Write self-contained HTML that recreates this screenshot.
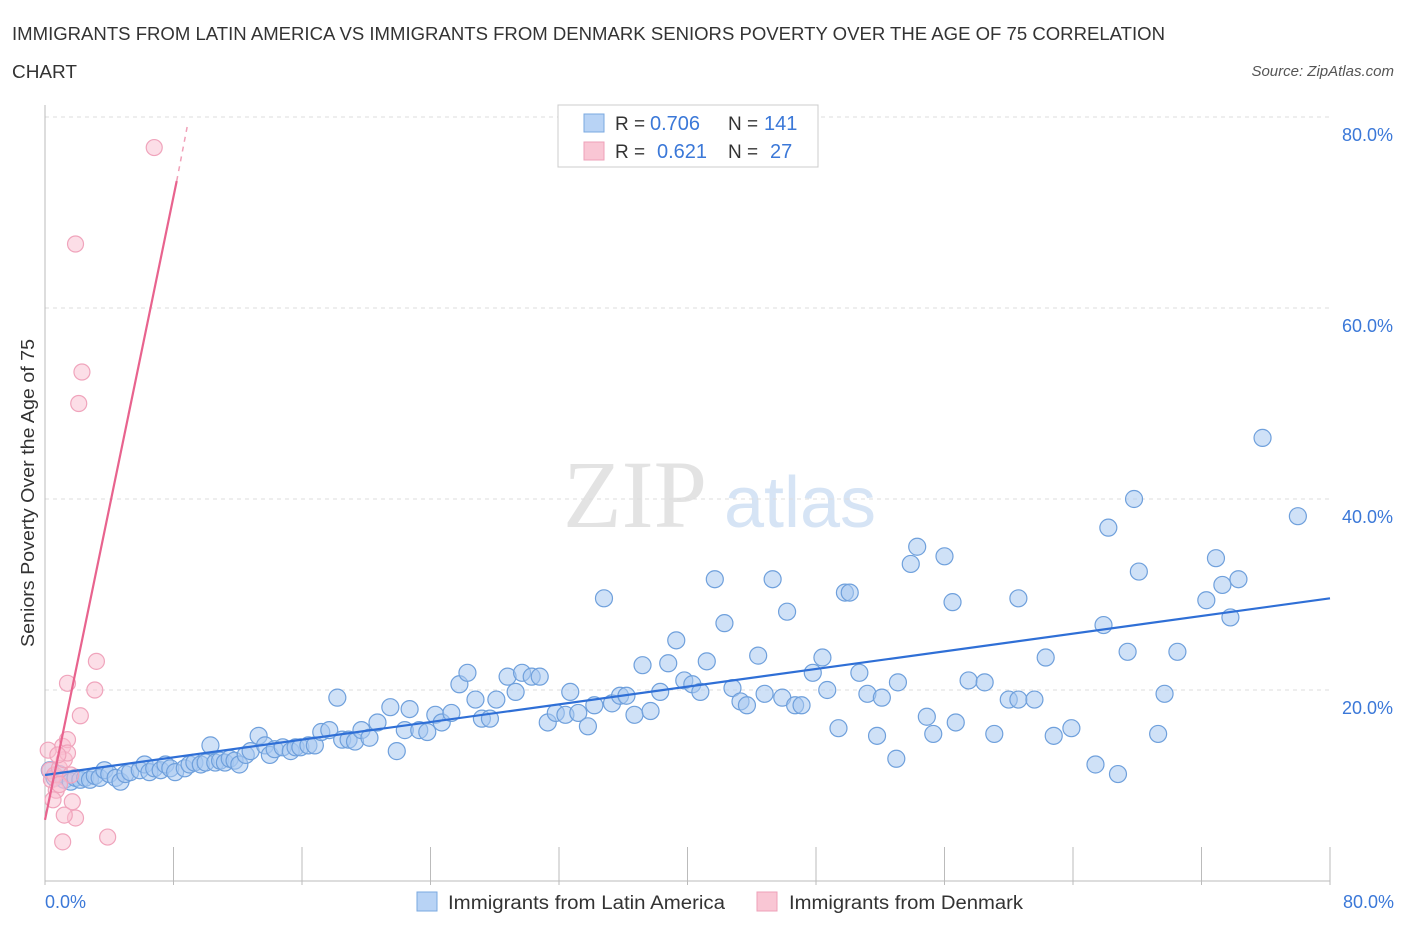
<!DOCTYPE html>
<html><head><meta charset="utf-8"><style>
body{margin:0;background:#fff;font-family:"Liberation Sans",sans-serif;}
#wrap{position:relative;width:1406px;height:930px;overflow:hidden;}
</style></head><body>
<div id="wrap">
<svg id="svg" width="1406" height="930" xmlns="http://www.w3.org/2000/svg">
<text x="12" y="40" font-size="18" fill="#333" textLength="1153" lengthAdjust="spacingAndGlyphs">IMMIGRANTS FROM LATIN AMERICA VS IMMIGRANTS FROM DENMARK SENIORS POVERTY OVER THE AGE OF 75 CORRELATION</text>
<text x="12" y="78" font-size="18" fill="#333" textLength="65" lengthAdjust="spacingAndGlyphs">CHART</text>
<text x="1394" y="76" font-size="15" fill="#555" font-style="italic" text-anchor="end">Source: ZipAtlas.com</text>
<text x="635" y="527" font-size="96" fill="#e3e3e3" font-family="Liberation Serif,serif" text-anchor="middle">ZIP</text>
<text x="800" y="527" font-size="72" fill="#d6e4f5" text-anchor="middle">atlas</text>
<text x="34" y="493" font-size="18" fill="#333" text-anchor="middle" transform="rotate(-90 34 493)" textLength="308" lengthAdjust="spacingAndGlyphs">Seniors Poverty Over the Age of 75</text>
<g id="grid"></g><g id="marks"></g>
<g>
<rect x="558" y="105" width="260" height="62" fill="#fff" stroke="#ccc"/>
<rect x="584" y="114" width="20" height="18" fill="#b8d3f5" stroke="#7aa8e0"/>
<rect x="584" y="142" width="20" height="18" fill="#f9c6d4" stroke="#eea0b8"/>
<text x="615" y="130" font-size="19" fill="#333">R =</text>
<text x="650" y="130" font-size="20" fill="#3b78d8">0.706</text>
<text x="728" y="130" font-size="19" fill="#333">N =</text>
<text x="764" y="130" font-size="20" fill="#3b78d8">141</text>
<text x="615" y="158" font-size="19" fill="#333">R =</text>
<text x="657" y="158" font-size="20" fill="#3b78d8">0.621</text>
<text x="728" y="158" font-size="19" fill="#333">N =</text>
<text x="770" y="158" font-size="20" fill="#3b78d8">27</text>
</g>
<g>
<rect x="417" y="892" width="20" height="19" fill="#b8d3f5" stroke="#7aa8e0"/>
<text x="448" y="909" font-size="19" fill="#333" textLength="277" lengthAdjust="spacingAndGlyphs">Immigrants from Latin America</text>
<rect x="757" y="892" width="20" height="19" fill="#f9c6d4" stroke="#eea0b8"/>
<text x="789" y="909" font-size="19" fill="#333" textLength="234" lengthAdjust="spacingAndGlyphs">Immigrants from Denmark</text>
</g>
</svg>
</div>
<script>
const yTicks=[20,40,60,80];
const xTickVals=[0,8,16,24,32,40,48,56,64,72,80];
const blueX=[0.3,0.6,0.9,1.2,1.6,1.9,2.2,2.5,2.8,3.1,3.4,3.7,4.0,4.4,4.7,5.0,5.3,5.9,6.2,6.5,6.8,7.2,7.5,7.8,8.1,8.7,9.0,9.3,9.7,10.0,10.3,10.6,10.9,11.2,11.5,11.8,12.1,12.5,12.8,13.3,13.7,14.0,14.3,14.8,15.3,15.6,15.9,16.4,16.8,17.2,17.7,18.2,18.5,18.9,19.3,19.7,20.2,20.7,21.5,21.9,22.4,22.7,23.3,23.8,24.3,24.7,25.3,25.8,26.3,26.8,27.2,27.7,28.1,28.8,29.3,29.7,30.3,30.8,31.3,31.8,32.4,32.7,33.2,33.8,34.2,34.8,35.3,35.8,36.2,36.7,37.2,37.7,38.3,38.8,39.3,39.8,40.3,40.8,41.2,41.7,42.3,42.8,43.3,43.7,44.4,44.8,45.3,45.9,46.2,46.7,47.1,47.8,48.4,48.7,49.4,49.8,50.1,50.7,51.2,51.8,52.1,53.0,53.1,53.9,54.3,54.9,55.3,56.0,56.5,56.7,57.5,58.5,59.1,60.0,60.6,60.6,61.6,62.3,62.8,63.9,65.4,65.9,66.2,66.8,67.4,67.8,68.1,69.3,69.7,70.5,72.3,72.9,73.3,73.8,74.3,75.8,78.0];
const blueY=[11.6,10.8,11.2,10.6,10.4,10.8,10.6,10.8,10.6,11.0,10.8,11.6,11.2,10.8,10.4,11.2,11.4,11.6,12.2,11.4,11.8,11.6,12.2,11.8,11.4,11.8,12.2,12.4,12.2,12.4,14.2,12.4,12.6,12.4,12.8,12.6,12.2,13.2,13.6,15.2,14.2,13.2,13.8,14.0,13.6,14.0,14.0,14.2,14.2,15.6,15.8,19.2,14.8,14.8,14.6,15.8,15.0,16.6,18.2,13.6,15.8,18.0,15.8,15.6,17.4,16.6,17.6,20.6,21.8,19.0,17.0,17.0,19.0,21.4,19.8,21.8,21.4,21.4,16.6,17.6,17.4,19.8,17.6,16.2,18.4,29.6,18.6,19.4,19.4,17.4,22.6,17.8,19.8,22.8,25.2,21.0,20.6,19.8,23.0,31.6,27.0,20.2,18.8,18.4,23.6,19.6,31.6,19.2,28.2,18.4,18.4,21.8,23.4,20.0,16.0,30.2,30.2,21.8,19.6,15.2,19.2,12.8,20.8,33.2,35.0,17.2,15.4,34.0,29.2,16.6,21.0,20.8,15.4,19.0,29.6,19.0,19.0,23.4,15.2,16.0,12.2,26.8,37.0,11.2,24.0,40.0,32.4,15.4,19.6,24.0,29.4,33.8,31.0,27.6,31.6,46.4,38.2];
const pinkX=[0.3,0.4,0.6,0.7,0.9,1.1,1.2,1.4,1.6,1.7,1.9,1.1,1.4,1.4,1.9,2.1,2.3,3.2,3.1,2.2,3.9,6.8,0.2,0.8,0.5,0.9,1.2];
const pinkY=[11.6,10.6,11.1,9.5,11.8,14.1,12.7,14.8,11.1,8.3,6.6,4.1,20.7,13.4,66.7,50.0,53.3,23.0,20.0,17.3,4.6,76.8,13.7,13.2,8.5,10.1,6.9];
const blueTrend=[[0,11.1],[80,29.6]];
const pinkTrend=[[0,6.4],[8.2,73.3]];
const pinkDash=[[8.2,73.3],[8.9,79.4]];
const NS='http://www.w3.org/2000/svg';
const X0=45,X1=1330,Y0=881,Y80=117;
function sx(v){return X0+v/80*(X1-X0);}
function sy(v){return Y0-v/80*(Y0-Y80);}
function mk(t,a,p){const e=document.createElementNS(NS,t);for(const k in a)e.setAttribute(k,a[k]);p.appendChild(e);return e;}
const g=document.getElementById('grid'),m=document.getElementById('marks');
yTicks.forEach(v=>{
 const l=mk('line',{x1:X0,x2:X1,y1:sy(v),y2:sy(v),stroke:'#ddd','stroke-dasharray':'4,4'},g);
 
 
 const t=mk('text',{x:1393,y:sy(v)+24,'font-size':18,fill:'#3b78d8','text-anchor':'end'},g);
 t.textContent=v.toFixed(1)+'%';
 
 
});
const ax=mk('line',{x1:X0,x2:X0,y1:105,y2:Y0,stroke:'#bbb'},g);


const bx=mk('line',{x1:X0,x2:X1,y1:Y0,y2:Y0,stroke:'#bbb'},g);


xTickVals.forEach(v=>{
 const l=mk('line',{x1:sx(v),x2:sx(v),y1:Y0-34,y2:Y0+4,stroke:'#bbb'},g);
 
 
});
[[0,'start',X0],[80,'end',1394]].forEach(([v,a,x])=>{
 const t=mk('text',{x:x,y:908,'font-size':18,fill:'#3b78d8','text-anchor':a},g);
 t.textContent=v.toFixed(1)+'%';
 
 
});
blueX.forEach((x,i)=>{
 const c=mk('circle',{cx:sx(x),cy:sy(blueY[i]),r:8.5,fill:'rgba(168,200,240,0.55)',stroke:'#6fa0dc','stroke-width':1.2},m);
 
 
});
pinkX.forEach((x,i)=>{
 const c=mk('circle',{cx:sx(x),cy:sy(pinkY[i]),r:8,fill:'rgba(250,190,208,0.5)',stroke:'#f0a4bc','stroke-width':1.2},m);
 
 
});
const bl=mk('line',{x1:sx(blueTrend[0][0]),y1:sy(blueTrend[0][1]),x2:sx(blueTrend[1][0]),y2:sy(blueTrend[1][1]),stroke:'#2f6fd6','stroke-width':2.2},m);


const pl=mk('line',{x1:sx(pinkTrend[0][0]),y1:sy(pinkTrend[0][1]),x2:sx(pinkTrend[1][0]),y2:sy(pinkTrend[1][1]),stroke:'#e8638e','stroke-width':2.2},m);


const pd=mk('line',{x1:sx(pinkDash[0][0]),y1:sy(pinkDash[0][1]),x2:sx(pinkDash[1][0]),y2:sy(pinkDash[1][1]),stroke:'#f0a0b8','stroke-width':1.5,'stroke-dasharray':'5,5'},m);


</script>
</body></html>
